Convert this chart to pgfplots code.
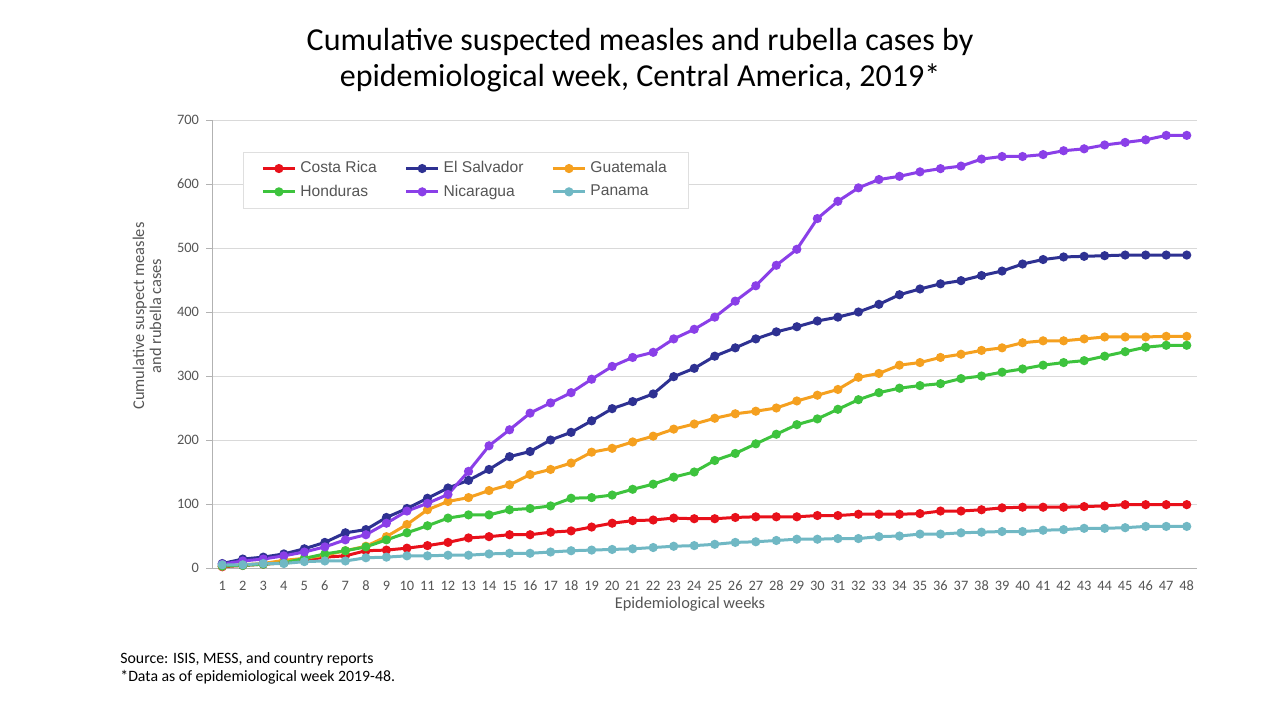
\documentclass[border=0pt]{standalone}
\usepackage{pgfplots}
\usepackage{pgfplotstable}
\pgfplotsset{compat=1.18}
\usepackage{fontspec}
\setmainfont{Carlito}
\newfontfamily\legendfont{Liberation Sans}

\definecolor{cRed}{HTML}{E8101A}
\definecolor{cNavy}{HTML}{2E3192}
\definecolor{cOrange}{HTML}{F5A01F}
\definecolor{cGreen}{HTML}{3DC33D}
\definecolor{cPurple}{HTML}{8A3FE8}
\definecolor{cTeal}{HTML}{70B8C4}
\definecolor{txtgray}{HTML}{555555}

% week, Costa Rica, El Salvador, Guatemala, Honduras, Nicaragua, Panama
\pgfplotstableread{
wk cr es gu ho ni pa
1 2 7 3 3 6 5
2 4 14 5 4 11 5
3 6 17 7 6 14 7
4 8 22 12 8 19 7
5 12 30 15 15 25 10
6 17 40 20 22 33 11
7 19 55 27 27 44 11
8 27 60 34 33 52 16
9 28 79 49 44 70 17
10 31 93 68 55 89 19
11 35 109 91 66 101 19
12 40 125 104 78 115 20
13 47 137 110 83 151 20
14 49 154 121 83 191 22
15 52 174 130 91 216 23
16 52 182 146 93 242 23
17 56 200 154 97 258 25
18 58 212 164 109 274 27
19 64 230 181 110 295 28
20 70 249 187 114 315 29
21 74 260 197 123 329 30
22 75 272 206 131 337 32
23 78 299 217 142 358 34
24 77 312 225 150 373 35
25 77 331 234 168 392 37
26 79 344 241 179 417 40
27 80 358 245 194 441 41
28 80 369 250 209 473 43
29 80 377 261 224 498 45
30 82 386 270 233 546 45
31 82 392 279 248 573 46
32 84 400 298 263 594 46
33 84 412 304 274 607 49
34 84 427 317 281 612 50
35 85 436 321 285 619 53
36 89 444 329 288 624 53
37 89 449 334 296 628 55
38 91 457 340 300 639 56
39 94 464 344 306 643 57
40 95 475 352 311 643 57
41 95 482 355 317 646 59
42 95 486 355 321 652 60
43 96 487 358 324 655 62
44 97 488 361 331 661 62
45 99 489 361 338 665 63
46 99 489 361 345 669 65
47 99 489 362 348 676 65
48 99 489 362 348 676 65
}\cases

\begin{document}
\begin{tikzpicture}
\path[use as bounding box, fill=white] (0,0) rectangle (640pt,360pt);

\node[align=center, font=\fontsize{16pt}{18pt}\selectfont] at (320pt,330pt)
  {Cumulative suspected measles and rubella cases by\\epidemiological week, Central America, 2019*};

\begin{axis}[
    at={(106pt,76pt)}, anchor=south west,
    scale only axis, width=492.5pt, height=224pt,
    xmin=0.5, xmax=48.5, ymin=0, ymax=700,
    axis lines=left,
    axis line style={gray!60, -},
    xtick={1,...,48},
    minor xtick={0.5,1.5,...,48.5},
    ytick={0,100,...,700},
    x tick style={draw=none},
    minor x tick style={gray!60},
    y tick style={gray!60},
    tick align=outside,
    major tick length=3pt, minor tick length=2.5pt,
    ymajorgrids, grid style={gray!30, line width=0.5pt},
    tick label style={font=\fontsize{7.2pt}{8pt}\selectfont, text=txtgray},
    /pgf/number format/assume math mode=true,
    every axis plot/.append style={line width=1.5pt, mark=*, mark size=1.5pt},
    legend columns=3,
    legend cell align=left,
    legend style={at={(0.0315,0.9286)}, anchor=north west, draw=gray!25,
      font=\legendfont\fontsize{7.8pt}{9pt}\selectfont, text=txtgray,
      inner xsep=9pt, inner ysep=2.5pt, row sep=0.5pt,
      /tikz/every even column/.append style={column sep=12pt}},
    legend image code/.code={\draw[mark repeat=2, mark phase=2]
      plot coordinates {(0pt,0pt) (8pt,0pt) (16pt,0pt)};},
]
\addplot[cRed, mark options={fill=cRed}] table[x=wk, y=cr] {\cases};
\addlegendentry{Costa Rica}
\addplot[cNavy, mark options={fill=cNavy}] table[x=wk, y=es] {\cases};
\addlegendentry{El Salvador}
\addplot[cOrange, mark options={fill=cOrange}] table[x=wk, y=gu] {\cases};
\addlegendentry{Guatemala}
\addplot[cGreen, mark options={fill=cGreen}] table[x=wk, y=ho] {\cases};
\addlegendentry{Honduras}
\addplot[cPurple, mark options={fill=cPurple}] table[x=wk, y=ni] {\cases};
\addlegendentry{Nicaragua}
\addplot[cTeal, mark options={fill=cTeal}] table[x=wk, y=pa] {\cases};
\addlegendentry{Panama}
\end{axis}

\node[rotate=90, align=center, text=txtgray, font=\fontsize{8.2pt}{8.6pt}\selectfont]
  at (73.5pt,202pt) {Cumulative suspect measles\\and rubella cases};
\node[text=txtgray, font=\fontsize{8.2pt}{9pt}\selectfont] at (345pt,58pt) {Epidemiological weeks};

\node[anchor=base west, font=\fontsize{7.9pt}{8pt}\selectfont, inner sep=0pt] at (60pt,28.5pt)
  {Source: ISIS, MESS, and country reports};
\node[anchor=base west, font=\fontsize{7.9pt}{8pt}\selectfont, inner sep=0pt] at (60pt,19.5pt)
  {*Data as of epidemiological week 2019-48.};
\end{tikzpicture}
\end{document}
